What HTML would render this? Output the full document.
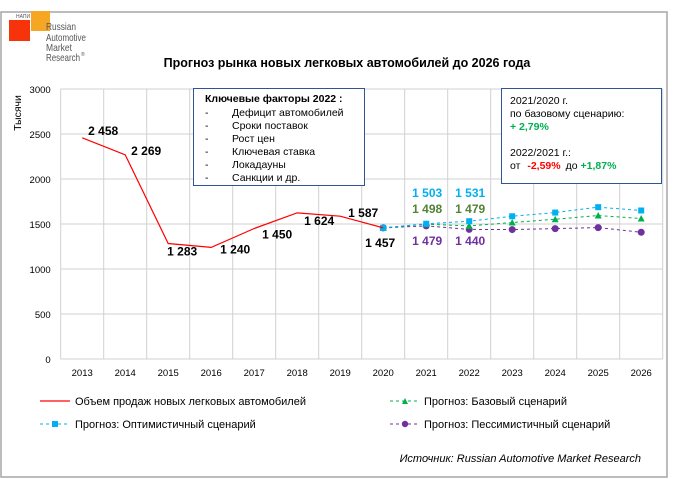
<!DOCTYPE html>
<html><head><meta charset="utf-8"><style>
body{margin:0;background:#fff;}
svg{display:block;font-family:"Liberation Sans",Arial,sans-serif;}
</style></head><body>
<svg width="680" height="479" viewBox="0 0 680 479">
<rect x="1" y="12" width="666" height="465" fill="#fff" stroke="#a6a6a6" stroke-width="1.5"/>
<g>
<rect x="31" y="11" width="19" height="20" fill="#f5a623"/>
<rect x="9" y="20" width="21" height="21" fill="#f7330b"/>
<text x="16" y="18" font-size="5" fill="#555">НАПИ</text>
<g font-size="10.5" fill="#555">
<text x="46" y="30" textLength="30" lengthAdjust="spacingAndGlyphs">Russian</text>
<text x="46" y="41" textLength="40" lengthAdjust="spacingAndGlyphs">Automotive</text>
<text x="46" y="51" textLength="26" lengthAdjust="spacingAndGlyphs">Market</text>
<text x="46" y="61" textLength="34" lengthAdjust="spacingAndGlyphs">Research</text>
<text x="81" y="56" font-size="5">®</text>
</g>
</g>
<text x="347" y="67" font-size="12.5" font-weight="bold" text-anchor="middle">Прогноз рынка новых легковых автомобилей до 2026 года</text>
<text transform="translate(21,113) rotate(-90)" font-size="10.5" text-anchor="middle">Тысячи</text>
<g id="grid"></g>
<g id="marks"></g>
<g>
<rect x="193.5" y="88.5" width="171" height="97" fill="#fff" stroke="#2f5597" stroke-width="1"/>
<text x="205" y="102" font-size="10.5" font-weight="bold">Ключевые факторы 2022 :</text>
<g font-size="10.5">
<text x="205" y="116">-</text><text x="232" y="116">Дефицит автомобилей</text>
<text x="205" y="129">-</text><text x="232" y="129">Сроки поставок</text>
<text x="205" y="142">-</text><text x="232" y="142">Рост цен</text>
<text x="205" y="155">-</text><text x="232" y="155">Ключевая ставка</text>
<text x="205" y="168">-</text><text x="232" y="168">Локадауны</text>
<text x="205" y="181">-</text><text x="232" y="181">Санкции и др.</text>
</g></g>
<g font-size="10.5">
<rect x="501.5" y="88.5" width="160" height="95" fill="#fff" stroke="#2f5597" stroke-width="1"/>
<text x="510" y="104">2021/2020 г.</text>
<text x="510" y="117">по базовому сценарию:</text>
<text x="510" y="130" fill="#00b050" font-weight="bold">+ 2,79%</text>
<text x="510" y="156">2022/2021 г.:</text>
<text x="510" y="169">от <tspan fill="#ff0000" font-weight="bold" dx="4">-2,59%</tspan><tspan dx="5">до </tspan><tspan fill="#00b050" font-weight="bold">+1,87%</tspan></text>
</g>
<g font-size="11">
<g><line x1="40" y1="401" x2="70" y2="401" stroke="#ff0000" stroke-width="1.2"/><text x="75" y="405">Объем продаж новых легковых автомобилей</text></g>
<g><line x1="390" y1="401" x2="420" y2="401" stroke="#00b050" stroke-dasharray="3,3"/><path d="M402,404 L405,398 L408,404 Z" fill="#00b050"/><text x="424" y="405">Прогноз: Базовый сценарий</text></g>
<g><line x1="40" y1="424" x2="70" y2="424" stroke="#00b0f0" stroke-dasharray="3,3"/><rect x="52" y="421" width="6" height="6" fill="#00b0f0"/><text x="75" y="428">Прогноз: Оптимистичный сценарий</text></g>
<g><line x1="390" y1="424" x2="420" y2="424" stroke="#7030a0" stroke-dasharray="3,3"/><circle cx="405" cy="424" r="3.2" fill="#7030a0"/><text x="424" y="428">Прогноз: Пессимистичный сценарий</text></g>
</g>
<text x="641" y="462" font-size="11" font-style="italic" text-anchor="end">Источник: Russian Automotive Market Research</text>
</svg>
<script>
const years=["2013","2014","2015","2016","2017","2018","2019","2020","2021","2022","2023","2024","2025","2026"];
const yTicks=[0,500,1000,1500,2000,2500,3000];
const actual=[2458,2269,1283,1240,1450,1624,1587,1457];
const actualLabels=["2 458","2 269","1 283","1 240","1 450","1 624","1 587","1 457"];
const baseVals=[1457,1498,1479,1516,1553,1594,1561];
const optVals=[1457,1503,1531,1586,1627,1687,1650];
const pessVals=[1457,1479,1440,1438,1449,1460,1408];
const forecastStart=7;
const NS="http://www.w3.org/2000/svg";
const X0=60.7,BW=43,Y0=359,YT=89,YMAX=3000;
const xs=i=>X0+BW*(i+0.5);
const ys=v=>Y0-(v/YMAX)*(Y0-YT);
function mk(t,a,p){const e=document.createElementNS(NS,t);for(const k in a)e.setAttribute(k,a[k]);(p||document.getElementById('marks')).appendChild(e);return e;}
const grid=document.getElementById('grid');
yTicks.forEach(v=>{
 const l=mk('line',{x1:X0,x2:X0+BW*years.length,y1:ys(v),y2:ys(v),stroke:'#d0d0d0'},grid);
 
 
 const t=mk('text',{x:X0-10,y:ys(v)+4,'font-size':'9.5','text-anchor':'end'},grid);t.textContent=v;
 
 
});
for(let i=0;i<=years.length;i++){
 const l=mk('line',{x1:X0+BW*i,x2:X0+BW*i,y1:YT,y2:Y0,stroke:'#d0d0d0'},grid);
 
 
}
years.forEach((y,i)=>{const t=mk('text',{x:xs(i),y:376,'font-size':'9.5','text-anchor':'middle'},grid);t.textContent=y;
 
 });
function series(vals,color,shape,name){
 const pts=vals.map((v,i)=>xs(i+forecastStart)+','+ys(v)).join(' ');
 const pl=mk('polyline',{points:pts,fill:'none',stroke:color,'stroke-width':'1','stroke-dasharray':'3,3'});
 
 
 vals.forEach((v,i)=>{const x=xs(i+forecastStart),y=ys(v);let m;
  if(shape==='sq')m=mk('rect',{x:x-3,y:y-3,width:6,height:6,fill:color});
  else if(shape==='tri')m=mk('path',{d:`M${x-3.5},${y+3} L${x},${y-3.5} L${x+3.5},${y+3} Z`,fill:color});
  else m=mk('circle',{cx:x,cy:y,r:3.5,fill:color});
  
  });
}
series(pessVals,'#7030a0','c','pessimistic');
series(baseVals,'#00b050','tri','base');
series(optVals,'#00b0f0','sq','optimistic');
const al=mk('polyline',{points:actual.map((v,i)=>xs(i)+','+ys(v)).join(' '),fill:'none',stroke:'#ff0000','stroke-width':'1.2'});


const offs=[[21,-3],[21,0],[14,12],[24,6],[23,10],[22,12],[23,1],[-3,19]];
actual.forEach((v,i)=>{const t=mk('text',{x:xs(i)+offs[i][0],y:ys(v)+offs[i][1],'font-size':'12','font-weight':'bold','text-anchor':'middle'});t.textContent=actualLabels[i];
 
 });
const fmt=v=>String(v).replace(/(\d)(\d{3})$/,'$1 $2');
[[optVals,'#00b0f0',-31],[baseVals,'#548235',-15],[pessVals,'#7030a0',17]].forEach(([vals,c,dy])=>{
 [1,2].forEach(i=>{const t=mk('text',{x:xs(i+forecastStart)+1,y:ys(pessVals[0])+dy,'font-size':'12','font-weight':'bold','text-anchor':'middle',fill:c});t.textContent=fmt(vals[i]);
 
 });
});
</script>
</body></html>
